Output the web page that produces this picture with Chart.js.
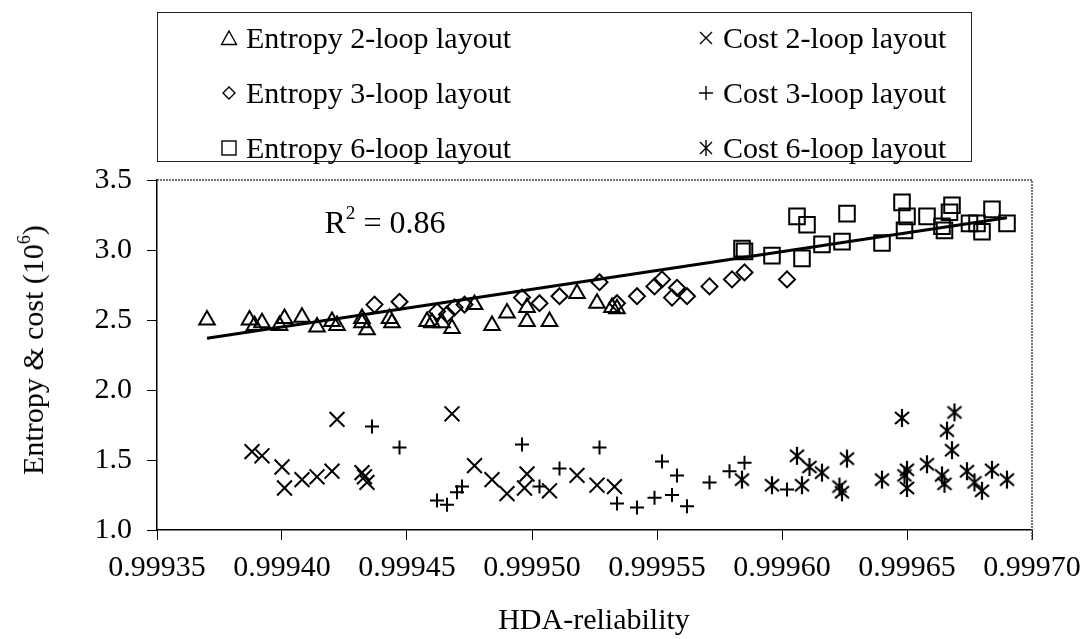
<!DOCTYPE html>
<html>
<head>
<meta charset="utf-8">
<script src="https://cdn.jsdelivr.net/npm/chart.js@4/dist/chart.umd.min.js"></script>
<style>
  body { margin: 0; background: #fff; }
  #wrap { position: relative; width: 1091px; height: 639px; font-family: "Liberation Serif", "Times New Roman", serif; color: #000; }
  #chart { position: absolute; left: 0; top: 0; }
  #legend { position: absolute; left: 157px; top: 12px; width: 815px; height: 150px; border: 1.5px solid #222; box-sizing: border-box; font-size: 30px; }
  .item { position: absolute; display: flex; align-items: center; white-space: nowrap; height: 30px; }
  .item svg { margin-right: 8px; }
  #ytitle { position: absolute; left: 33px; top: 350px; transform: translate(-50%, -50%) rotate(-90deg); font-size: 30px; white-space: nowrap; }
  #xtitle { position: absolute; left: 594px; top: 619px; transform: translate(-50%, -50%); font-size: 30px; white-space: nowrap; }
  #r2 { position: absolute; left: 385px; top: 222px; transform: translate(-50%, -50%); font-size: 32px; white-space: nowrap; }
  sup { font-size: 0.6em; vertical-align: 0.7em; line-height: 0; }
</style>
</head>
<body>
<div id="wrap">
  <canvas id="chart" width="1091" height="639"></canvas>
  <div id="legend"></div>
  <div id="ytitle">Entropy &amp; cost (10<sup>6</sup>)</div>
  <div id="xtitle">HDA-reliability</div>
  <div id="r2">R<sup>2</sup> = 0.86</div>
</div>
<script>
// --- данные ---
const xTicks = [0.99935, 0.99940, 0.99945, 0.99950, 0.99955, 0.99960, 0.99965, 0.99970];
const yTicks = [1.0, 1.5, 2.0, 2.5, 3.0, 3.5];

const seriesNames = ['Entropy 2-loop layout', 'Entropy 3-loop layout', 'Entropy 6-loop layout',
                     'Cost 2-loop layout', 'Cost 3-loop layout', 'Cost 6-loop layout'];

const entropy2X = [0.999370, 0.999387, 0.999389, 0.999392, 0.999399, 0.999401, 0.999408, 0.999414, 0.999420, 0.999422,
                   0.999432, 0.999432, 0.999434, 0.999443, 0.999444, 0.999458, 0.999460, 0.999464, 0.999468, 0.999477,
                   0.999484, 0.999490, 0.999498, 0.999498, 0.999507, 0.999518, 0.999526, 0.999532, 0.999534];
const entropy2Y = [2.50, 2.50, 2.46, 2.48, 2.46, 2.51, 2.52, 2.45, 2.49, 2.46,
                   2.51, 2.48, 2.43, 2.51, 2.48, 2.49, 2.48, 2.48, 2.44, 2.61,
                   2.46, 2.55, 2.59, 2.49, 2.49, 2.69, 2.62, 2.59, 2.58];

const entropy3X = [0.999437, 0.999447, 0.999462, 0.999466, 0.999469, 0.999473, 0.999496, 0.999503, 0.999511, 0.999527,
                   0.999534, 0.999542, 0.999549, 0.999552, 0.999556, 0.999558, 0.999562, 0.999571, 0.999580, 0.999585,
                   0.999602];
const entropy3Y = [2.61, 2.63, 2.56, 2.54, 2.59, 2.61, 2.66, 2.62, 2.67, 2.77,
                   2.62, 2.67, 2.74, 2.79, 2.66, 2.73, 2.67, 2.74, 2.79, 2.84,
                   2.79];

const entropy6X = [0.999584, 0.999585, 0.999596, 0.999606, 0.999610, 0.999608, 0.999616, 0.999624, 0.999626, 0.999640,
                   0.999648, 0.999650, 0.999649, 0.999658, 0.999664, 0.999665, 0.999667, 0.999668, 0.999675, 0.999678,
                   0.999680, 0.999684, 0.999690];
const entropy6Y = [3.01, 2.99, 2.96, 3.24, 3.18, 2.94, 3.04, 3.06, 3.26, 3.05,
                   3.34, 3.24, 3.14, 3.24, 3.17, 3.14, 3.27, 3.32, 3.19, 3.19,
                   3.13, 3.29, 3.19];

const cost2X = [0.999388, 0.999392, 0.999400, 0.999401, 0.999408, 0.999414, 0.999420, 0.999422, 0.999432, 0.999433,
                0.999434, 0.999468, 0.999477, 0.999484, 0.999490, 0.999497, 0.999498, 0.999507, 0.999518, 0.999526,
                0.999533];
const cost2Y = [1.56, 1.53, 1.45, 1.30, 1.36, 1.38, 1.42, 1.79, 1.41, 1.38,
                1.34, 1.83, 1.46, 1.36, 1.26, 1.30, 1.40, 1.28, 1.39, 1.32,
                1.31];

const cost3X = [0.999436, 0.999447, 0.999462, 0.999466, 0.999470, 0.999472, 0.999496, 0.999503, 0.999511, 0.999527,
                0.999534, 0.999542, 0.999549, 0.999552, 0.999556, 0.999558, 0.999562, 0.999571, 0.999579, 0.999585,
                0.999602];
const cost3Y = [1.74, 1.59, 1.21, 1.18, 1.27, 1.31, 1.61, 1.31, 1.44, 1.59,
                1.19, 1.16, 1.23, 1.49, 1.25, 1.39, 1.17, 1.34, 1.42, 1.48,
                1.29];

const cost6X = [0.999584, 0.999596, 0.999606, 0.999608, 0.999611, 0.999616, 0.999623, 0.999624, 0.999626, 0.999640,
                0.999648, 0.999649, 0.999650, 0.999650, 0.999658, 0.999664, 0.999665, 0.999666, 0.999669, 0.999668,
                0.999674, 0.999677, 0.999680, 0.999684, 0.999690];
const cost6Y = [1.36, 1.32, 1.53, 1.32, 1.45, 1.41, 1.31, 1.27, 1.51, 1.36,
                1.80, 1.39, 1.43, 1.30, 1.47, 1.39, 1.33, 1.71, 1.84, 1.57,
                1.42, 1.34, 1.28, 1.43, 1.36];

// линия тренда (R^2 = 0.86)
const fitX = [0.99937, 0.99969];
const fitY = [2.37, 3.23];

function toPoints(xs, ys) {
    return xs.map((x, i) => ({ x: x, y: ys[i] }));
}

// звёздочка "ж" для Cost 6-loop
function makeAsterisk(w, h) {
    const c = document.createElement('canvas');
    c.width = w; c.height = h;
    const g = c.getContext('2d');
    g.strokeStyle = '#000';
    g.lineWidth = 2.2;
    const m = 2;
    g.beginPath();
    g.moveTo(m, m + 2); g.lineTo(w - m, h - m - 2);
    g.moveTo(w - m, m + 2); g.lineTo(m, h - m - 2);
    g.moveTo(w / 2, 1); g.lineTo(w / 2, h - 1);
    g.stroke();
    return c;
}
const asterisk = makeAsterisk(18, 20);

// легенда в две колонки
const legendSvg = [
    '<svg width="18" height="18"><polygon points="9,2 16.5,15.5 1.5,15.5" fill="none" stroke="#000" stroke-width="1.4"/></svg>',
    '<svg width="18" height="18"><polygon points="9,3 15,9 9,15 3,9" fill="none" stroke="#000" stroke-width="1.4"/></svg>',
    '<svg width="18" height="18"><rect x="2" y="2" width="14" height="14" fill="none" stroke="#000" stroke-width="1.4"/></svg>',
    '<svg width="18" height="18"><path d="M3,3 L15,15 M15,3 L3,15" stroke="#000" stroke-width="1.4"/></svg>',
    '<svg width="18" height="18"><path d="M9,2 L9,16 M2,9 L16,9" stroke="#000" stroke-width="1.4"/></svg>',
    '<svg width="18" height="18"><path d="M3,3 L15,15 M15,3 L3,15 M9,1 L9,17" stroke="#000" stroke-width="1.4"/></svg>'
];
const legend = document.getElementById('legend');
seriesNames.forEach((name, i) => {
    const col = i < 3 ? 0 : 1;
    const row = i % 3;
    const el = document.createElement('div');
    el.className = 'item';
    el.style.left = (col === 0 ? 62 : 539) + 'px';
    el.style.top = (10 + row * 55) + 'px';
    el.innerHTML = legendSvg[i] + '<span>' + name + '</span>';
    legend.appendChild(el);
});

// пунктирная рамка сверху и справа
const frameBorder = {
    id: 'frameBorder',
    afterDraw(chart) {
        const { ctx, chartArea } = chart;
        ctx.save();
        ctx.strokeStyle = '#444';
        ctx.lineWidth = 1.5;
        ctx.setLineDash([2, 1]);
        ctx.beginPath();
        ctx.moveTo(chartArea.left, chartArea.top);
        ctx.lineTo(chartArea.right, chartArea.top);
        ctx.lineTo(chartArea.right, chartArea.bottom + 10);
        ctx.stroke();
        ctx.restore();
    }
};

const common = { showLine: false, borderColor: '#000', backgroundColor: 'rgba(0,0,0,0)', pointBackgroundColor: 'rgba(0,0,0,0)', pointBorderWidth: 2 };
const tickFont = { family: '"Liberation Serif", serif', size: 30 };

new Chart(document.getElementById('chart'), {
    type: 'scatter',
    data: {
        datasets: [
            { ...common, label: seriesNames[0], data: toPoints(entropy2X, entropy2Y), pointStyle: 'triangle', pointRadius: 9 },
            { ...common, label: seriesNames[1], data: toPoints(entropy3X, entropy3Y), pointStyle: 'rectRot', pointRadius: 8 },
            { ...common, label: seriesNames[2], data: toPoints(entropy6X, entropy6Y), pointStyle: 'rect', pointRadius: 11 },
            { ...common, label: seriesNames[3], data: toPoints(cost2X, cost2Y), pointStyle: 'crossRot', pointRadius: 10.5 },
            { ...common, label: seriesNames[4], data: toPoints(cost3X, cost3Y), pointStyle: 'cross', pointRadius: 7 },
            { ...common, label: seriesNames[5], data: toPoints(cost6X, cost6Y), pointStyle: asterisk },
            { type: 'line', label: 'fit', data: toPoints(fitX, fitY), borderColor: '#000', borderWidth: 3, pointRadius: 0, showLine: true, fill: false }
        ]
    },
    options: {
        responsive: false,
        animation: false,
        layout: { padding: { left: 0, top: 180, right: 59, bottom: 0 } },
        plugins: { legend: { display: false }, tooltip: { enabled: false } },
        scales: {
            x: {
                type: 'linear',
                min: xTicks[0],
                max: xTicks[xTicks.length - 1],
                afterBuildTicks: (scale) => { scale.ticks = xTicks.map(v => ({ value: v })); },
                afterFit: (scale) => { scale.height = 109; },
                grid: { display: true, drawOnChartArea: false, drawTicks: true, tickLength: 10, tickColor: '#000' },
                border: { display: true, color: '#000', width: 1.5 },
                ticks: {
                    color: '#000', padding: 10, maxRotation: 0, autoSkip: false,
                    font: tickFont,
                    callback: (v) => Number(v).toFixed(5)
                }
            },
            y: {
                type: 'linear',
                min: yTicks[0],
                max: yTicks[yTicks.length - 1],
                afterBuildTicks: (scale) => { scale.ticks = yTicks.map(v => ({ value: v })); },
                afterFit: (scale) => { scale.width = 157; },
                grid: { display: true, drawOnChartArea: false, drawTicks: true, tickLength: 10, tickColor: '#000' },
                border: { display: true, color: '#000', width: 1.5 },
                ticks: {
                    color: '#000', padding: 15,
                    font: tickFont,
                    callback: (v) => Number(v).toFixed(1)
                }
            }
        }
    },
    plugins: [frameBorder]
});
</script>
</body>
</html>
